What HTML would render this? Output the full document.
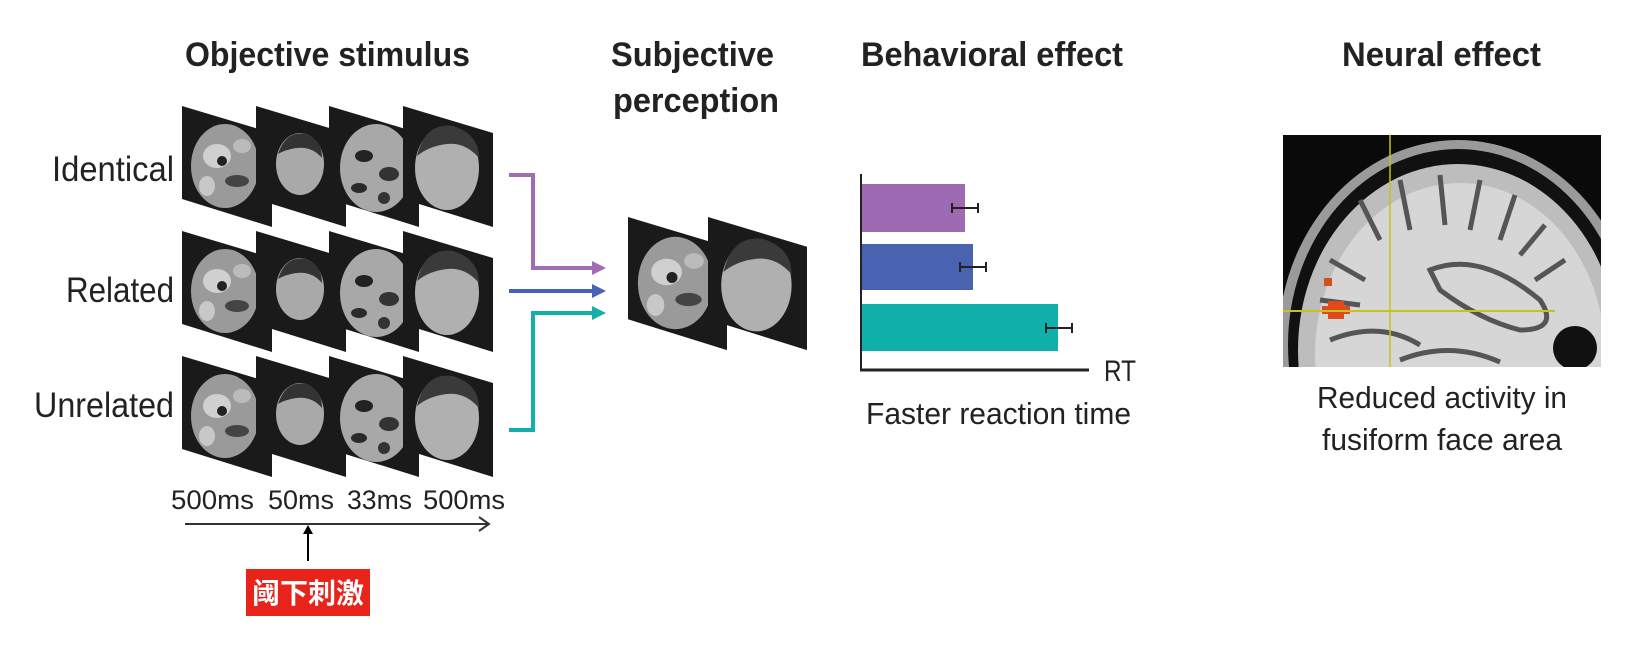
<!DOCTYPE html>
<html><head><meta charset="utf-8"><style>
html,body{margin:0;padding:0;background:#fff;}
svg{display:block;}
text{font-family:"Liberation Sans","Noto Sans CJK SC",sans-serif;fill:#222;}
</style></head><body>
<svg width="1630" height="645" viewBox="0 0 1630 645" xmlns="http://www.w3.org/2000/svg">
<defs>
  <g id="noise">
    <polygon points="0,0 90,27 90,121 0,93" fill="#1a1a1a"/>
    <ellipse cx="43" cy="60" rx="34" ry="42" fill="#9a9a9a"/>
    <ellipse cx="35" cy="50" rx="14" ry="12" fill="#d0d0d0"/>
    <ellipse cx="40" cy="55" rx="5" ry="5" fill="#222"/>
    <ellipse cx="55" cy="75" rx="12" ry="6" fill="#444"/>
    <ellipse cx="25" cy="80" rx="8" ry="10" fill="#c8c8c8"/>
    <ellipse cx="60" cy="40" rx="9" ry="7" fill="#bbb"/>
  </g>
  <g id="noise2">
    <polygon points="0,0 90,27 90,121 0,93" fill="#1a1a1a"/>
    <ellipse cx="47" cy="62" rx="36" ry="44" fill="#a8a8a8"/>
    <ellipse cx="35" cy="50" rx="9" ry="6" fill="#222"/>
    <ellipse cx="60" cy="68" rx="10" ry="7" fill="#333"/>
    <ellipse cx="30" cy="82" rx="8" ry="5" fill="#2a2a2a"/>
    <ellipse cx="55" cy="92" rx="6" ry="6" fill="#333"/>
  </g>
  <g id="face">
    <polygon points="0,0 90,27 90,121 0,93" fill="#1a1a1a"/>
    <ellipse cx="44" cy="58" rx="24" ry="31" fill="#a9a9a9"/>
    <path d="M22,48 Q30,24 50,28 Q66,34 66,52 Q56,40 40,42 Q28,44 22,48Z" fill="#333"/>
  </g>
  <g id="faceL">
    <polygon points="0,0 90,27 90,121 0,93" fill="#1a1a1a"/>
    <ellipse cx="44" cy="62" rx="32" ry="42" fill="#b0b0b0"/>
    <path d="M14,50 Q22,16 50,20 Q76,28 76,52 Q62,36 44,38 Q26,40 14,50Z" fill="#3a3a3a"/>
  </g>
</defs>

<!-- titles -->
<text x="185" y="66" font-size="34" font-weight="bold" textLength="285" lengthAdjust="spacingAndGlyphs">Objective stimulus</text>
<text x="611" y="66" font-size="34" font-weight="bold" textLength="163" lengthAdjust="spacingAndGlyphs">Subjective</text>
<text x="613" y="112" font-size="34" font-weight="bold" textLength="166" lengthAdjust="spacingAndGlyphs">perception</text>
<text x="861" y="66" font-size="34" font-weight="bold" textLength="262" lengthAdjust="spacingAndGlyphs">Behavioral effect</text>
<text x="1342" y="66" font-size="34" font-weight="bold" textLength="199" lengthAdjust="spacingAndGlyphs">Neural effect</text>

<!-- row labels -->
<text x="174" y="181" font-size="35" text-anchor="end" textLength="122" lengthAdjust="spacingAndGlyphs">Identical</text>
<text x="174" y="302" font-size="35" text-anchor="end" textLength="108" lengthAdjust="spacingAndGlyphs">Related</text>
<text x="174" y="417" font-size="35" text-anchor="end" textLength="140" lengthAdjust="spacingAndGlyphs">Unrelated</text>

<!-- cards rows -->
<g transform="translate(182,106)"><use href="#noise"/></g>
<g transform="translate(256,106)"><use href="#face"/></g>
<g transform="translate(329,106)"><use href="#noise2"/></g>
<g transform="translate(403,106)"><use href="#faceL"/></g>

<g transform="translate(182,231)"><use href="#noise"/></g>
<g transform="translate(256,231)"><use href="#face"/></g>
<g transform="translate(329,231)"><use href="#noise2"/></g>
<g transform="translate(403,231)"><use href="#faceL"/></g>

<g transform="translate(182,356)"><use href="#noise"/></g>
<g transform="translate(256,356)"><use href="#face"/></g>
<g transform="translate(329,356)"><use href="#noise2"/></g>
<g transform="translate(403,356)"><use href="#faceL"/></g>

<!-- timing -->
<text x="171" y="509" font-size="27" textLength="83" lengthAdjust="spacingAndGlyphs">500ms</text>
<text x="268" y="509" font-size="27" textLength="66" lengthAdjust="spacingAndGlyphs">50ms</text>
<text x="347" y="509" font-size="27" textLength="65" lengthAdjust="spacingAndGlyphs">33ms</text>
<text x="423" y="509" font-size="27" textLength="82" lengthAdjust="spacingAndGlyphs">500ms</text>
<line x1="185" y1="524" x2="489" y2="524" stroke="#333" stroke-width="2"/>
<polyline points="479,517 489,524 479,531" fill="none" stroke="#333" stroke-width="2"/>
<line x1="308" y1="561" x2="308" y2="532" stroke="#000" stroke-width="2"/>
<polygon points="303,534 308,525 313,534" fill="#000"/>
<rect x="246" y="569" width="124" height="47" fill="#e8231a"/>
<text x="308" y="603" font-size="28" font-weight="bold" text-anchor="middle" style="fill:#fff">阈下刺激</text>

<!-- colored arrows -->
<polyline points="509,175 533,175 533,268 596,268" fill="none" stroke="#a06db5" stroke-width="4"/>
<polygon points="592,261 606,268 592,275" fill="#a06db5"/>
<line x1="509" y1="291" x2="596" y2="291" stroke="#4a62b3" stroke-width="4"/>
<polygon points="592,284 606,291 592,298" fill="#4a62b3"/>
<polyline points="509,430 533,430 533,313 596,313" fill="none" stroke="#16aeaa" stroke-width="4"/>
<polygon points="592,306 606,313 592,320" fill="#16aeaa"/>

<!-- subjective cards -->
<g transform="translate(628,217) scale(1.1)"><use href="#noise"/></g>
<g transform="translate(708,217) scale(1.1)"><use href="#faceL"/></g>

<!-- bar chart -->
<rect x="861" y="184" width="104" height="48" fill="#9e6ab3"/>
<rect x="861" y="244" width="112" height="46" fill="#4a63b0"/>
<rect x="861" y="304" width="197" height="47" fill="#0fb0aa"/>
<g stroke="#222" stroke-width="2">
<line x1="952" y1="208" x2="978" y2="208"/><line x1="952" y1="203" x2="952" y2="213"/><line x1="978" y1="203" x2="978" y2="213"/>
<line x1="960" y1="267" x2="986" y2="267"/><line x1="960" y1="262" x2="960" y2="272"/><line x1="986" y1="262" x2="986" y2="272"/>
<line x1="1046" y1="328" x2="1072" y2="328"/><line x1="1046" y1="323" x2="1046" y2="333"/><line x1="1072" y1="323" x2="1072" y2="333"/>
</g>
<line x1="861" y1="174" x2="861" y2="371" stroke="#222" stroke-width="2"/>
<line x1="860" y1="370" x2="1089" y2="370" stroke="#222" stroke-width="3"/>
<text x="1104" y="381" font-size="30" textLength="32" lengthAdjust="spacingAndGlyphs">RT</text>
<text x="866" y="424" font-size="31" textLength="265" lengthAdjust="spacingAndGlyphs">Faster reaction time</text>

<!-- brain -->
<clipPath id="bc"><rect x="1283" y="135" width="318" height="232"/></clipPath>
<g clip-path="url(#bc)">
<rect x="1283" y="135" width="318" height="232" fill="#0a0a0a"/>
<ellipse cx="1458" cy="345" rx="180" ry="205" fill="#9a9a9a"/>
<ellipse cx="1458" cy="345" rx="170" ry="196" fill="#111"/>
<ellipse cx="1458" cy="350" rx="160" ry="186" fill="#bdbdbd"/>
<ellipse cx="1460" cy="355" rx="145" ry="172" fill="#d6d6d6"/>
<g stroke="#555" stroke-width="5" fill="none">
<path d="M1360,200 L1380,240 M1400,180 L1410,230 M1440,175 L1445,225 M1480,180 L1470,230 M1515,195 L1500,240 M1545,225 L1520,255 M1565,260 L1535,280 M1330,260 L1365,280 M1320,300 L1360,305"/>
<path d="M1430,270 Q1480,250 1540,300 Q1560,330 1520,330 Q1480,320 1440,290Z"/>
<path d="M1330,340 Q1380,320 1420,345 M1400,360 Q1450,340 1500,362"/>
</g>
<ellipse cx="1575" cy="348" rx="22" ry="22" fill="#111"/>
<rect x="1328" y="301" width="16" height="18" fill="#e04a1a"/>
<rect x="1322" y="306" width="28" height="8" fill="#e04a1a"/>
<rect x="1324" y="278" width="8" height="8" fill="#d05020"/>
<line x1="1390" y1="135" x2="1390" y2="367" stroke="#c8c020" stroke-width="1.5"/>
<line x1="1283" y1="311" x2="1555" y2="311" stroke="#c8c020" stroke-width="2"/>
</g>
<text x="1442" y="408" font-size="31" text-anchor="middle" textLength="250" lengthAdjust="spacingAndGlyphs">Reduced activity in</text>
<text x="1442" y="450" font-size="31" text-anchor="middle" textLength="240" lengthAdjust="spacingAndGlyphs">fusiform face area</text>
</svg>
</body></html>
